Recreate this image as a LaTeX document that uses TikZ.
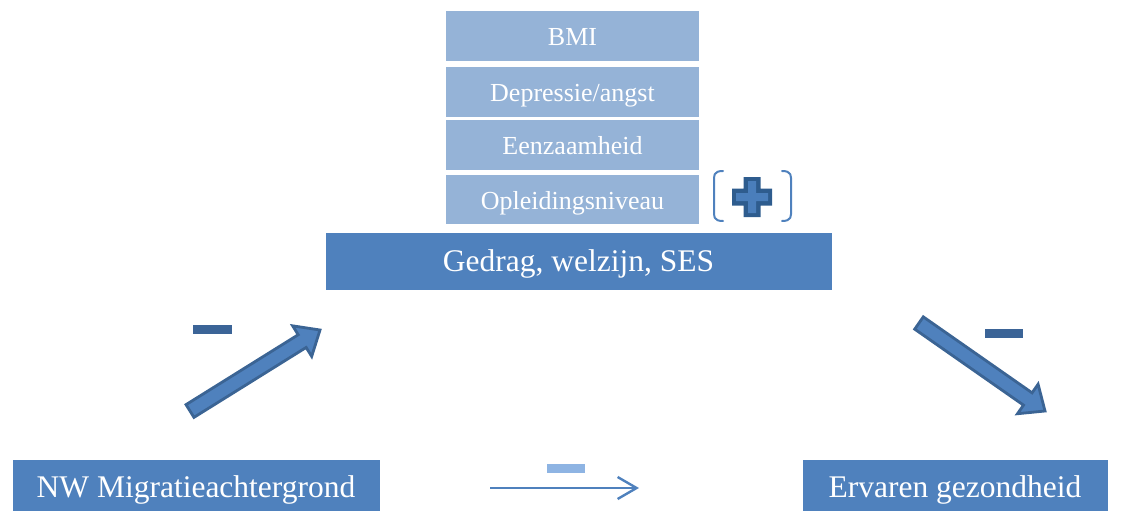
\documentclass[tikz,border=0pt]{standalone}
\usepackage{fontspec}
\setmainfont{Liberation Serif}
\usetikzlibrary{calc,arrows.meta}
\definecolor{boxdark}{HTML}{4F81BD}
\definecolor{boxlight}{HTML}{95B3D7}
\definecolor{arrowedge}{HTML}{3B6494}
\definecolor{minusdark}{HTML}{3B6497}
\definecolor{minuslight}{HTML}{8EB4E3}
\definecolor{plusfill}{HTML}{4A7EBB}
\definecolor{plusedge}{HTML}{2E5C8E}
\tikzset{
  stackbox/.style={draw=white, line width=1.2pt, fill=boxlight, text=white,
    minimum width=255pt, minimum height=51pt, inner sep=0pt,
    text height=24pt, text depth=5pt,
    font=\fontsize{26}{30}\selectfont},
  mainbox/.style={draw=white, line width=0.8pt, fill=boxdark, text=white,
    inner sep=0pt, text height=21pt, text depth=6.4pt,
    font=\fontsize{31.5}{36}\selectfont},
  blockarrow/.style={fill=boxdark, draw=arrowedge, line width=2.8pt, line join=miter},
  bracketline/.style={draw=boxdark, line width=2pt, line cap=round},
  thinarrow/.style={draw=boxdark, line width=2.4pt,
    -{Straight Barb[length=19pt,width=22pt,line width=2.4pt]}}
}
\begin{document}
\begin{tikzpicture}[x=1pt,y=-1pt]
\useasboundingbox (0,0) rectangle (1122,511);
\clip (0,0) rectangle (1122,511);
% stack
\node[stackbox] (bmi) at (572.5,36) {BMI};
\node[stackbox] (dep) at (572.5,92) {Depressie/angst};
\node[stackbox] (een) at (572.5,145) {Eenzaamheid};
\node[stackbox] (opl) at (572.5,199.5) {Opleidingsniveau};
% main boxes
\node[mainbox, minimum width=507pt, minimum height=58pt, text height=27pt, text depth=5.6pt] (ges) at (578.5,261) {Gedrag, welzijn, SES};
\node[mainbox, minimum width=368pt, minimum height=62pt] (nw) at (196,490) {NW Migratieachtergrond};
\node[mainbox, minimum width=306pt, minimum height=62pt] (erv) at (955,490) {Ervaren gezondheid};
% brackets with plus
\coordinate (lbt) at (723,171);
\coordinate (lbb) at (723,221);
\coordinate (rbt) at (782,171);
\coordinate (rbb) at (782,221);
\draw[bracketline] (lbt) .. controls (713,171) and (714,176) .. (714,182) -- (714,210) .. controls (714,216) and (713,221) .. (lbb);
\draw[bracketline] (rbt) .. controls (792,171) and (791,176) .. (791,182) -- (791,210) .. controls (791,216) and (792,221) .. (rbb);
\coordinate (pc) at (752,197);
\fill[plusedge] ($(pc)+(-20,-8.5)$) -- ($(pc)+(-8.5,-8.5)$) -- ($(pc)+(-8.5,-20)$) -- ($(pc)+(8.5,-20)$) -- ($(pc)+(8.5,-8.5)$) -- ($(pc)+(20,-8.5)$) -- ($(pc)+(20,8.5)$) -- ($(pc)+(8.5,8.5)$) -- ($(pc)+(8.5,20)$) -- ($(pc)+(-8.5,20)$) -- ($(pc)+(-8.5,8.5)$) -- ($(pc)+(-20,8.5)$) -- cycle;
\fill[plusfill] ($(pc)+(-16,-4)$) -- ($(pc)+(-4,-4)$) -- ($(pc)+(-4,-16)$) -- ($(pc)+(4,-16)$) -- ($(pc)+(4,-4)$) -- ($(pc)+(16,-4)$) -- ($(pc)+(16,4)$) -- ($(pc)+(4,4)$) -- ($(pc)+(4,16)$) -- ($(pc)+(-4,16)$) -- ($(pc)+(-4,4)$) -- ($(pc)+(-16,4)$) -- cycle;
% block arrow left (nw -> ges)
\coordinate (lt) at (190,411);
\coordinate (lh) at (320,330);
\coordinate (lc) at ($(lh)!21pt!(lt)$);
\draw[blockarrow] ($(lt)!7.5pt!90:(lh)$) -- ($(lc)!7.5pt!-90:(lt)$) -- ($(lc)!18pt!-90:(lt)$) -- (lh)
  -- ($(lc)!18pt!90:(lt)$) -- ($(lc)!7.5pt!90:(lt)$) -- ($(lt)!7.5pt!-90:(lh)$) -- cycle;
% block arrow right (ges -> erv)
\coordinate (rt) at (919,323);
\coordinate (rh) at (1045,411);
\coordinate (rc) at ($(rh)!21pt!(rt)$);
\draw[blockarrow] ($(rt)!7.5pt!90:(rh)$) -- ($(rc)!7.5pt!-90:(rt)$) -- ($(rc)!18pt!-90:(rt)$) -- (rh)
  -- ($(rc)!18pt!90:(rt)$) -- ($(rc)!7.5pt!90:(rt)$) -- ($(rt)!7.5pt!-90:(rh)$) -- cycle;
% minus signs
\fill[minusdark] (193,325) rectangle (232,334);
\fill[minusdark] (985,329) rectangle (1023,338);
\fill[minuslight] (547,464) rectangle (585,473);
% thin arrow
\coordinate (ta) at (490,488);
\coordinate (tb) at (639,488);
\draw[thinarrow] (ta) -- (tb);
\end{tikzpicture}
\end{document}
